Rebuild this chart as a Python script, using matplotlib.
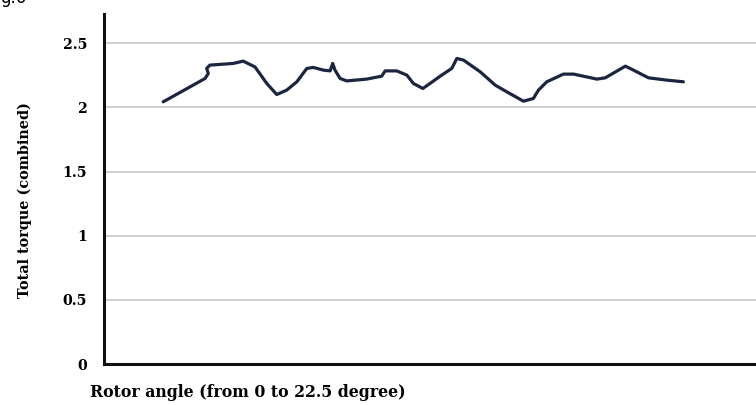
import matplotlib
matplotlib.use("Agg")
import matplotlib.pyplot as plt

# Rotor angle (degrees) and combined torque samples
angle = [0.01, 1.82, 1.96, 1.89, 2.03, 3.03, 3.47, 3.98, 4.49, 4.92, 5.35, 5.79,
         6.22, 6.50, 6.94, 7.23, 7.34, 7.44, 7.66, 7.95, 8.81, 9.46, 9.61, 10.11,
         10.55, 10.83, 11.24, 11.55, 11.99, 12.49, 12.71, 13.00, 13.72, 14.37,
         14.87, 15.59, 16.02, 16.24, 16.60, 17.32, 17.76, 18.77, 19.13, 20.00,
         20.35, 21.00, 21.80, 22.51]
torque = [2.043, 2.225, 2.264, 2.303, 2.329, 2.342, 2.360, 2.315, 2.186, 2.100,
          2.134, 2.199, 2.303, 2.311, 2.290, 2.284, 2.342, 2.290, 2.225, 2.206,
          2.220, 2.243, 2.284, 2.284, 2.251, 2.186, 2.147, 2.186, 2.243, 2.303,
          2.381, 2.368, 2.277, 2.173, 2.121, 2.048, 2.069, 2.134, 2.199, 2.259,
          2.259, 2.220, 2.230, 2.321, 2.290, 2.230, 2.212, 2.199]
yticks = [0, 0.5, 1, 1.5, 2, 2.5]
ytick_labels = ["0", "0.5", "1", "1.5", "2", "2.5"]

plt.rcParams["font.family"] = ["DejaVu Serif"]

fig = plt.figure(figsize=(7.56, 4.05), dpi=100)
ax = fig.add_axes([0.1376, 0.1012, 0.8624, 0.8638])

ax.plot(angle, torque, color="#1c2540", linewidth=2.3, solid_capstyle="round",
        solid_joinstyle="round")

ax.set_xlim(-2.55, 25.65)
ax.set_ylim(0, 2.726)
ax.set_xticks([])
ax.set_yticks(yticks)
ax.set_yticklabels(ytick_labels, fontweight="bold", fontsize=10.2)
ax.tick_params(axis="y", length=0, pad=12)

ax.grid(axis="y", color="#cfcfcf", linewidth=1.4)
ax.set_axisbelow(True)
for side in ("top", "right"):
    ax.spines[side].set_visible(False)
for side in ("left", "bottom"):
    ax.spines[side].set_linewidth(2.2)
    ax.spines[side].set_color("#111111")

fig.text(0.119, 0.03, "Rotor angle (from 0 to 22.5 degree)", fontsize=11.3,
         fontweight="bold", ha="left", va="center")
fig.text(0.033, 0.506, "Total torque (combined)", fontsize=10.4, fontweight="bold",
         rotation=90, ha="center", va="center")
fig.text(0.0, 1.005, "g.6", fontsize=12, ha="left", va="center",
         family="DejaVu Sans")

fig.savefig("out.png", dpi=100)
